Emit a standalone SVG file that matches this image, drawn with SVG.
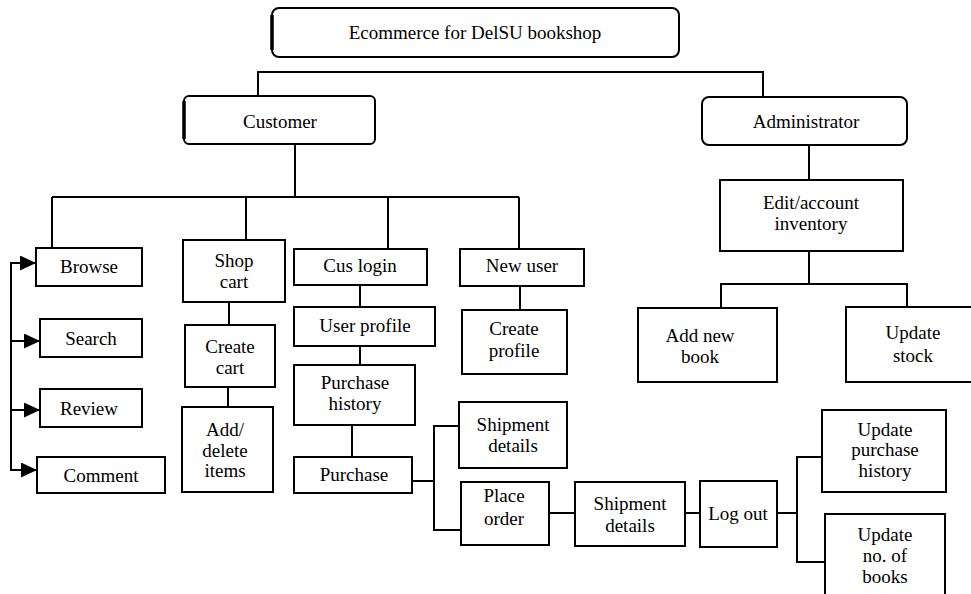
<svg xmlns="http://www.w3.org/2000/svg" width="971" height="594" viewBox="0 0 971 594">
<style>
.box{fill:#fff;stroke:#000;stroke-width:2}
.conn{fill:none;stroke:#000;stroke-width:2}
.edge{stroke:#000;stroke-width:3.5}
text{font-family:"Liberation Serif","Times New Roman",serif;font-size:19px;text-anchor:middle;fill:#000}
</style>
<defs>
<marker id="arr" markerUnits="userSpaceOnUse" markerWidth="16" markerHeight="15" refX="16" refY="7.5" orient="auto">
<path d="M0,0 L16,7.5 L0,15 z" fill="#000"/>
</marker>
</defs>
<rect width="971" height="594" fill="#fff"/>
<g id="connectors">
<polyline class="conn" points="258,96 258,72 763,72 763,97"/>
<line class="conn" x1="295" y1="144" x2="295" y2="197"/>
<line class="conn" x1="52" y1="197" x2="519" y2="197"/>
<line class="conn" x1="52" y1="197" x2="52" y2="248"/>
<line class="conn" x1="246" y1="197" x2="246" y2="240"/>
<line class="conn" x1="388" y1="197" x2="388" y2="249"/>
<line class="conn" x1="519" y1="197" x2="519" y2="249"/>
<polyline class="conn" points="36,263 11,263 11,470 36,470"/>
<line class="conn" x1="11" y1="263" x2="36" y2="263" marker-end="url(#arr)"/>
<line class="conn" x1="11" y1="341" x2="40" y2="341" marker-end="url(#arr)"/>
<line class="conn" x1="11" y1="410" x2="40" y2="410" marker-end="url(#arr)"/>
<line class="conn" x1="11" y1="470" x2="37" y2="470" marker-end="url(#arr)"/>
<line class="conn" x1="229" y1="302" x2="229" y2="325"/>
<line class="conn" x1="228" y1="387" x2="228" y2="407"/>
<line class="conn" x1="360" y1="285" x2="360" y2="307"/>
<line class="conn" x1="360" y1="346" x2="360" y2="365"/>
<line class="conn" x1="352" y1="425" x2="352" y2="457"/>
<line class="conn" x1="520" y1="286" x2="520" y2="310"/>
<line class="conn" x1="412" y1="481" x2="434" y2="481"/>
<polyline class="conn" points="459,426 434,426 434,530 461,530"/>
<line class="conn" x1="549" y1="513" x2="575" y2="513"/>
<line class="conn" x1="685" y1="513" x2="700" y2="513"/>
<line class="conn" x1="777" y1="513" x2="797" y2="513"/>
<polyline class="conn" points="822,457 797,457 797,562 825,562"/>
<line class="conn" x1="809" y1="145" x2="809" y2="180"/>
<line class="conn" x1="809" y1="251" x2="809" y2="284"/>
<polyline class="conn" points="721,308 721,284 907,284 907,307"/>
</g>
<g id="title">
<rect class="box" x="272" y="8" width="407" height="49" rx="7"/>
<line class="edge" x1="272" y1="15" x2="272" y2="50"/>
<text x="475" y="39">Ecommerce for DelSU bookshop</text>
</g>
<g id="customer">
<rect class="box" x="184" y="96" width="191" height="48" rx="5"/>
<line class="edge" x1="184" y1="101" x2="184" y2="139"/>
<text x="280" y="128">Customer</text>
</g>
<g id="administrator">
<rect class="box" x="702" y="97" width="205" height="48" rx="7"/>
<text x="806" y="128">Administrator</text>
</g>
<g id="browse">
<rect class="box" x="36" y="248" width="106" height="38"/>
<text x="89" y="273">Browse</text>
</g>
<g id="search">
<rect class="box" x="40" y="319" width="102" height="38"/>
<text x="91" y="345">Search</text>
</g>
<g id="review">
<rect class="box" x="40" y="389" width="102" height="38"/>
<text x="89" y="415">Review</text>
</g>
<g id="comment">
<rect class="box" x="37" y="457" width="128" height="36"/>
<text x="101" y="482">Comment</text>
</g>
<g id="shop-cart">
<rect class="box" x="183" y="240" width="102" height="62"/>
<text x="234" y="267">Shop</text>
<text x="234" y="288">cart</text>
</g>
<g id="create-cart">
<rect class="box" x="185" y="325" width="90" height="62"/>
<text x="230" y="353">Create</text>
<text x="230" y="374">cart</text>
</g>
<g id="add-delete-items">
<rect class="box" x="182" y="407" width="91" height="85"/>
<text x="225" y="436">Add/</text>
<text x="225" y="457">delete</text>
<text x="225" y="477">items</text>
</g>
<g id="cus-login">
<rect class="box" x="294" y="249" width="133" height="36"/>
<text x="360" y="272">Cus login</text>
</g>
<g id="user-profile">
<rect class="box" x="294" y="307" width="141" height="39"/>
<text x="365" y="332">User profile</text>
</g>
<g id="purchase-history">
<rect class="box" x="294" y="365" width="121" height="60"/>
<text x="355" y="389">Purchase</text>
<text x="355" y="410">history</text>
</g>
<g id="purchase">
<rect class="box" x="294" y="457" width="118" height="36"/>
<text x="354" y="481">Purchase</text>
</g>
<g id="new-user">
<rect class="box" x="460" y="249" width="124" height="37"/>
<text x="522" y="272">New user</text>
</g>
<g id="create-profile">
<rect class="box" x="462" y="310" width="105" height="64"/>
<text x="514" y="335">Create</text>
<text x="514" y="357">profile</text>
</g>
<g id="shipment-details-1">
<rect class="box" x="459" y="402" width="108" height="66"/>
<text x="513" y="431">Shipment</text>
<text x="513" y="452">details</text>
</g>
<g id="place-order">
<rect class="box" x="461" y="482" width="88" height="63"/>
<text x="504" y="502">Place</text>
<text x="504" y="525">order</text>
</g>
<g id="shipment-details-2">
<rect class="box" x="575" y="482" width="110" height="64"/>
<text x="630" y="510">Shipment</text>
<text x="630" y="532">details</text>
</g>
<g id="log-out">
<rect class="box" x="700" y="481" width="77" height="66"/>
<text x="738" y="520">Log out</text>
</g>
<g id="update-purchase-history">
<rect class="box" x="822" y="410" width="124" height="82"/>
<text x="885" y="436">Update</text>
<text x="885" y="456">purchase</text>
<text x="885" y="477">history</text>
</g>
<g id="update-no-of-books">
<rect class="box" x="825" y="514" width="120" height="90"/>
<text x="885" y="541">Update</text>
<text x="885" y="562">no. of</text>
<text x="885" y="583">books</text>
</g>
<g id="edit-account-inventory">
<rect class="box" x="720" y="180" width="183" height="71"/>
<text x="811" y="209">Edit/account</text>
<text x="811" y="230">inventory</text>
</g>
<g id="add-new-book">
<rect class="box" x="638" y="308" width="139" height="74"/>
<text x="700" y="342">Add new</text>
<text x="700" y="363">book</text>
</g>
<g id="update-stock">
<rect class="box" x="846" y="307" width="140" height="75"/>
<text x="913" y="339">Update</text>
<text x="913" y="362">stock</text>
</g>
</svg>
